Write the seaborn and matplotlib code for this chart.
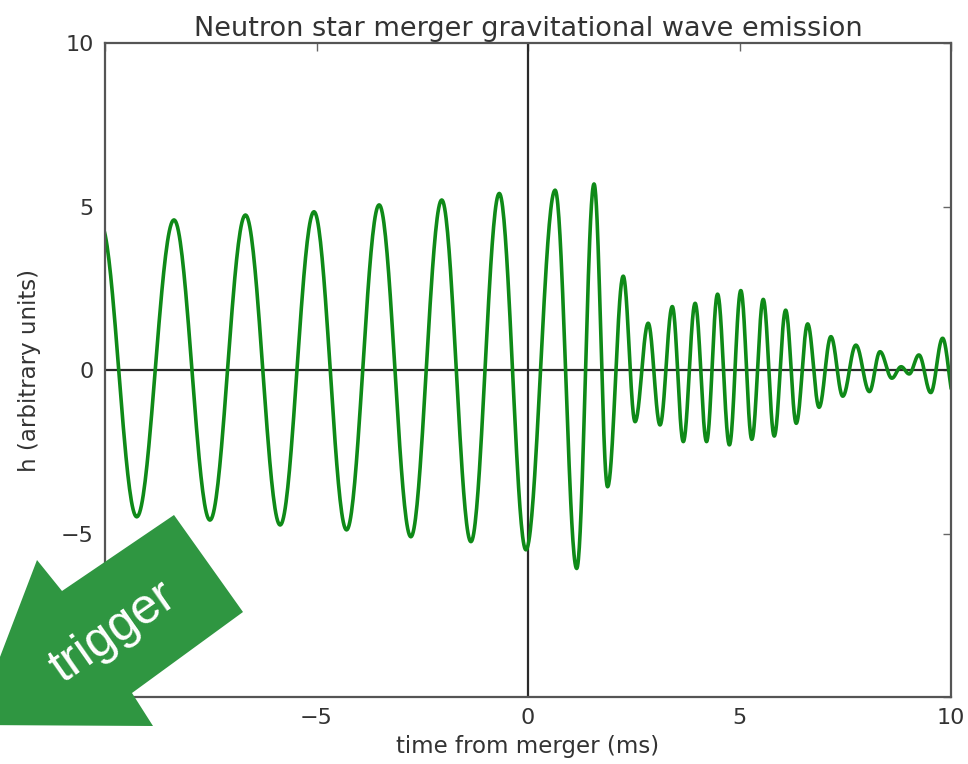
# Neutron star merger gravitational wave emission (strain vs time)

import numpy as np
import seaborn as sns
import matplotlib.pyplot as plt
from matplotlib.patches import Polygon

sns.set_theme(style="white")
plt.rcParams['font.family'] = ['DejaVu Sans']

# extrema of the waveform (time in ms, strain h)
peak_t = [-10.10, -9.25, -8.37, -7.52, -6.68, -5.86, -5.06, -4.29, -3.52, -2.77,
          -2.04, -1.35, -0.68, -0.05, 0.64, 1.15, 1.56, 1.88, 2.25, 2.53,
          2.84, 3.12, 3.41, 3.67, 3.95, 4.22, 4.48, 4.76, 5.03, 5.29,
          5.56, 5.82, 6.09, 6.34, 6.61, 6.88, 7.16, 7.44, 7.75, 8.07,
          8.32, 8.60, 8.82, 9.01, 9.24, 9.52, 9.80, 10.08]
peak_h = [4.45, -4.49, 4.59, -4.59, 4.74, -4.74, 4.84, -4.89, 5.05, -5.10,
          5.20, -5.25, 5.40, -5.50, 5.50, -6.07, 5.69, -3.57, 2.87, -1.58,
          1.43, -1.68, 1.94, -2.19, 2.04, -2.19, 2.32, -2.29, 2.43, -2.12,
          2.16, -2.02, 1.83, -1.63, 1.41, -1.14, 1.02, -0.80, 0.76, -0.66,
          0.56, -0.25, 0.10, -0.12, 0.46, -0.69, 0.97, -0.90]

x_ticks = [-10, -5, 0, 5, 10]
y_ticks = [-10, -5, 0, 5, 10]

# smooth half-cosine swing between successive extrema
t_parts, h_parts = [], []
for i in range(len(peak_t) - 1):
    t0, t1 = peak_t[i], peak_t[i + 1]
    h0, h1 = peak_h[i], peak_h[i + 1]
    u = np.linspace(0, 1, 40, endpoint=False)
    t_parts.append(t0 + (t1 - t0) * u)
    h_parts.append((h0 + h1) / 2 + (h0 - h1) / 2 * np.cos(np.pi * u))
t_curve = np.concatenate(t_parts)
h_curve = np.concatenate(h_parts)

fig = plt.figure(figsize=(9.68, 7.64), dpi=100)
ax = fig.add_axes([0.1085, 0.0877, 0.874, 0.856])

ax.axhline(0, color='#2a2a2a', lw=1.6, zorder=1)
ax.axvline(0, color='#2a2a2a', lw=1.6, zorder=1)
sns.lineplot(x=t_curve, y=h_curve, ax=ax, color='#0f8a18', lw=2.6, sort=False, zorder=2)

ax.set_xlim(-10, 10)
ax.set_ylim(-10, 10)
ax.set_xticks(x_ticks)
ax.set_yticks(y_ticks)
ax.set_xticklabels(['\u2212' + str(-v) if v < 0 else str(v) for v in x_ticks])
ax.set_yticklabels(['\u2212' + str(-v) if v < 0 else str(v) for v in y_ticks])
ax.tick_params(direction='in', length=6, width=1, top=True, right=True,
               labelsize=16, colors='#666666', labelcolor='#333333', pad=8)
for s in ax.spines.values():
    s.set_color('#555555')
    s.set_linewidth(1.6)

ax.set_title("Neutron star merger gravitational wave emission", fontsize=19.5,
             color='#333333', pad=5)
ax.set_xlabel("time from merger (ms)", fontsize=16.5, color='#333333', labelpad=5)
ax.set_ylabel("h (arbitrary units)", fontsize=16.5, color='#333333', labelpad=4)

# big green "trigger" arrow in the lower left corner (pixel coords)
W, H = 968, 764
arrow_px = [(174, 515), (243, 612), (132, 693), (153, 726), (-26, 725), (37, 560), (62, 591)]
arrow = Polygon([(x / W, 1 - y / H) for x, y in arrow_px], closed=True,
                transform=fig.transFigure, facecolor='#2f9641', edgecolor='none', zorder=10)
fig.add_artist(arrow)
fig.text(113 / W, 1 - 633 / H, "trigger", rotation=35, rotation_mode='anchor',
         ha='center', va='center', color='white', fontsize=36,
         family=['Liberation Sans', 'DejaVu Sans'], zorder=11)

plt.savefig("out.png", dpi=100)
plt.close()
